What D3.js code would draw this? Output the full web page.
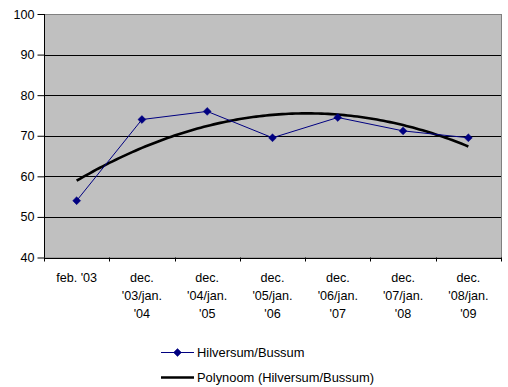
<!DOCTYPE html>
<html>
<head>
<meta charset="utf-8">
<script src="https://cdn.jsdelivr.net/npm/d3@7"></script>
<style>
  html, body { margin: 0; padding: 0; background: #fff; }
  svg { display: block; font-family: "Liberation Sans", Arial, sans-serif; }
</style>
</head>
<body>
<svg id="chart" width="508" height="387"></svg>
<script>
// Survey periods (multi-line labels)
const categories = [
  ["feb. '03"],
  ["dec.", "'03/jan.", "'04"],
  ["dec.", "'04/jan.", "'05"],
  ["dec.", "'05/jan.", "'06"],
  ["dec.", "'06/jan.", "'07"],
  ["dec.", "'07/jan.", "'08"],
  ["dec.", "'08/jan.", "'09"]
];
const seriesName = "Hilversum/Bussum";
const trendName = "Polynoom (Hilversum/Bussum)";
const values = [54, 74, 76, 69.5, 74.5, 71.2, 69.5];
const yTicks = [40, 50, 60, 70, 80, 90, 100];

const svg = d3.select("#chart");
const plotL = 44, plotR = 501, plotT = 14, plotB = 257.5;
const fontSize = 12.6;
const legendFont = 12.9;

const x = d3.scaleBand().domain(d3.range(categories.length)).range([plotL, plotR]);
const y = d3.scaleLinear().domain([40, 100]).range([plotB, plotT]);

// plot area
svg.append("rect")
  .attr("x", plotL + 0.5).attr("y", plotT + 0.5)
  .attr("width", plotR - plotL).attr("height", plotB - plotT)
  .attr("fill", "#c0c0c0")
  .attr("stroke", "#808080").attr("stroke-width", 1);

// horizontal gridlines
svg.append("g").selectAll("line")
  .data(yTicks.filter(t => t > 40 && t < 100))
  .join("line")
  .attr("x1", plotL).attr("x2", plotR)
  .attr("y1", d => Math.round(y(d)) + 0.5).attr("y2", d => Math.round(y(d)) + 0.5)
  .attr("stroke", "#000").attr("stroke-width", 1);

// y axis
const yAxis = svg.append("g")
  .attr("transform", `translate(${plotL + 0.5},0)`)
  .call(d3.axisLeft(y).tickValues(yTicks).tickSize(7).tickPadding(3).tickFormat(d3.format("d")));
yAxis.selectAll("path, line").attr("stroke", "#000");
yAxis.selectAll("text").attr("font-size", fontSize).attr("fill", "#000")
  .attr("font-family", "Liberation Sans, Arial, sans-serif");
yAxis.select(".domain").attr("d", `M0,${plotT}V${plotB}`);

// x axis with boundary ticks between categories
const xg = svg.append("g");
xg.append("line")
  .attr("x1", plotL).attr("x2", plotR)
  .attr("y1", Math.round(plotB) + 0.5).attr("y2", Math.round(plotB) + 0.5)
  .attr("stroke", "#000");
const boundaries = d3.range(categories.length + 1).map(i => plotL + i * x.bandwidth());
xg.selectAll("line.tick")
  .data(boundaries)
  .join("line").attr("class", "tick")
  .attr("x1", d => Math.round(d) + 0.5).attr("x2", d => Math.round(d) + 0.5)
  .attr("y1", plotB).attr("y2", plotB + 4)
  .attr("stroke", "#000");

const lineGap = 18.3;
categories.forEach((lines, i) => {
  const cx = x(i) + x.bandwidth() / 2;
  const t = xg.append("text")
    .attr("text-anchor", "middle")
    .attr("font-size", fontSize)
    .attr("fill", "#000");
  lines.forEach((ln, j) => {
    t.append("tspan").attr("x", cx).attr("y", 281.5 + j * lineGap).text(ln);
  });
});

// second-order least-squares trend of the series
const xs = values.map((_, i) => i + 1);
function polyFit2(xv, yv) {
  const n = xv.length;
  const s = [0, 0, 0, 0, 0], t = [0, 0, 0];
  for (let i = 0; i < n; i++) {
    let p = 1;
    for (let k = 0; k < 5; k++) { s[k] += p; if (k < 3) t[k] += p * yv[i]; p *= xv[i]; }
  }
  const M = [[s[0], s[1], s[2], t[0]], [s[1], s[2], s[3], t[1]], [s[2], s[3], s[4], t[2]]];
  for (let c = 0; c < 3; c++) {
    for (let r = c + 1; r < 3; r++) {
      const f = M[r][c] / M[c][c];
      for (let k = c; k < 4; k++) M[r][k] -= f * M[c][k];
    }
  }
  const co = [0, 0, 0];
  for (let r = 2; r >= 0; r--) {
    let v = M[r][3];
    for (let k = r + 1; k < 3; k++) v -= M[r][k] * co[k];
    co[r] = v / M[r][r];
  }
  return xx => co[0] + co[1] * xx + co[2] * xx * xx;
}
const trend = polyFit2(xs, values);
const cxOf = xv => x(0) + x.bandwidth() / 2 + (xv - 1) * x.bandwidth();
const trendPts = d3.range(1, 7.001, 0.05).map(v => [cxOf(v), y(trend(v))]);

svg.append("path")
  .attr("d", d3.line()(trendPts))
  .attr("fill", "none").attr("stroke", "#000").attr("stroke-width", 2.6);

// data series
const pts = values.map((v, i) => [x(i) + x.bandwidth() / 2, y(v)]);
svg.append("path")
  .attr("d", d3.line()(pts))
  .attr("fill", "none").attr("stroke", "#000080").attr("stroke-width", 1);

const diamond = d3.symbol().type(d3.symbolDiamond2).size(40);
svg.append("g").selectAll("path")
  .data(pts)
  .join("path")
  .attr("transform", d => `translate(${d[0]},${d[1]})`)
  .attr("d", diamond)
  .attr("fill", "#000080").attr("stroke", "#000080").attr("stroke-width", 0.5);

// legend
const lg = svg.append("g");
lg.append("line").attr("x1", 161).attr("x2", 194).attr("y1", 352.5).attr("y2", 352.5)
  .attr("stroke", "#000080").attr("stroke-width", 1);
lg.append("path").attr("transform", "translate(177.5,352.5)").attr("d", diamond)
  .attr("fill", "#000080").attr("stroke", "#000080").attr("stroke-width", 0.5);
lg.append("text").attr("x", 197).attr("y", 357).attr("font-size", legendFont).text(seriesName);
lg.append("line").attr("x1", 161).attr("x2", 194).attr("y1", 377.5).attr("y2", 377.5)
  .attr("stroke", "#000").attr("stroke-width", 2.6);
lg.append("text").attr("x", 197).attr("y", 382).attr("font-size", legendFont).text(trendName);
</script>
</body>
</html>
